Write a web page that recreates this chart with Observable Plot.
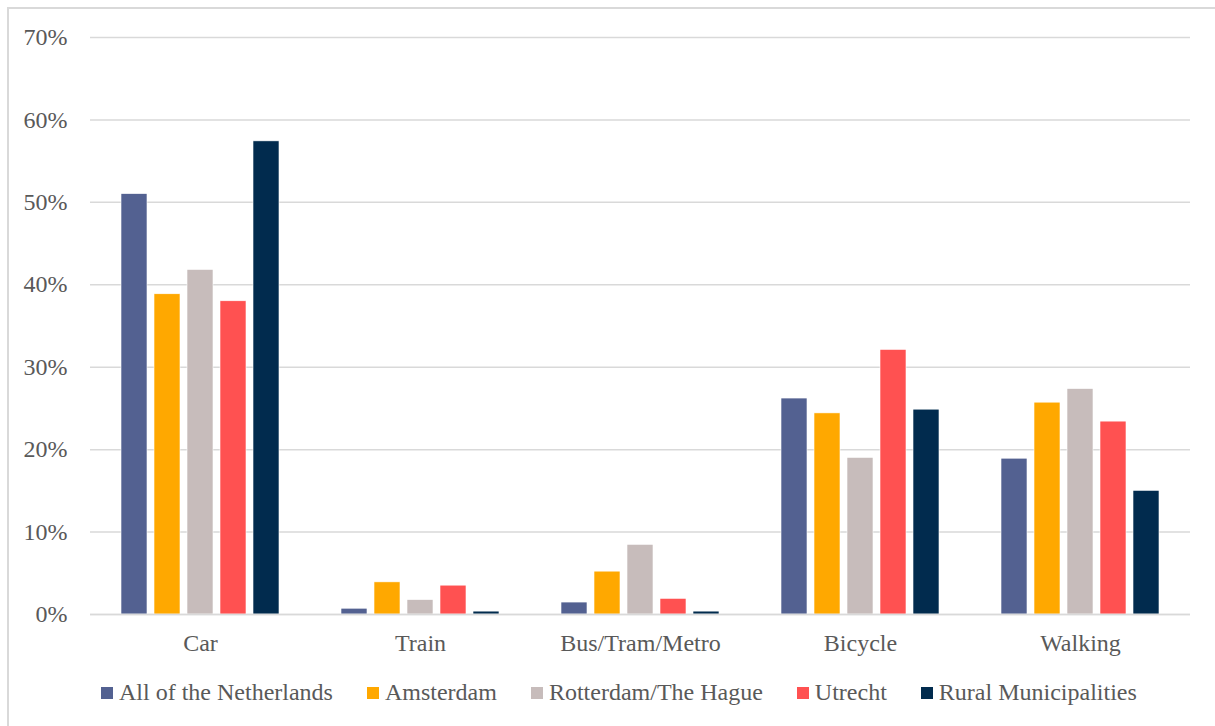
<!DOCTYPE html>
<html>
<head>
<meta charset="utf-8">
<script src="https://cdn.jsdelivr.net/npm/d3@7"></script>
<script src="https://cdn.jsdelivr.net/npm/@observablehq/plot@0.6"></script>
<style>
  html, body { margin: 0; padding: 0; background: #fff; overflow: hidden; }
  #wrap { position: relative; width: 1215px; height: 726px; font-family: "Times New Roman", "Liberation Serif", serif; color: #595959; }
  #frame { position: absolute; left: 7px; top: 7px; width: 1240px; height: 760px; border: 2px solid #d9d9d9; box-sizing: border-box; pointer-events: none; }
  #chart { position: absolute; left: 0; top: 0; }
  #chart svg, #chart svg text { font-family: "Times New Roman", "Liberation Serif", serif; }
  #legend { position: absolute; left: 101px; top: 679px; display: flex; align-items: center; gap: 34px; font-size: 24px; white-space: nowrap; }
  #legend .item { display: flex; align-items: center; }
  #legend .sw { width: 12px; height: 12px; margin-right: 6px; }
</style>
</head>
<body>
<div id="wrap">
  <div id="chart"></div>
  <div id="legend"></div>
  <div id="frame"></div>
</div>
<script>
// Travel modes (x groups) and regions (series)
const categories = ["Car", "Train", "Bus/Tram/Metro", "Bicycle", "Walking"];
const series = ["All of the Netherlands", "Amsterdam", "Rotterdam/The Hague", "Utrecht", "Rural Municipalities"];
const colors = ["#536191", "#ffa800", "#c7bcbb", "#ff5151", "#012b4e"];

// Share of trips per mode (%), in category order
const allNetherlands = [51.0, 0.7, 1.45, 26.2, 18.9];
const amsterdam      = [38.85, 3.9, 5.2, 24.4, 25.7];
const rotterdamHague = [41.8, 1.75, 8.45, 19.0, 27.35];
const utrecht        = [38.0, 3.5, 1.9, 32.1, 23.4];
const rural          = [57.4, 0.35, 0.35, 24.85, 15.0];

const yTicks = [0, 0.1, 0.2, 0.3, 0.4, 0.5, 0.6, 0.7];

const seriesValues = [allNetherlands, amsterdam, rotterdamHague, utrecht, rural];
const data = [];
series.forEach((s, i) => {
  categories.forEach((c, j) => {
    data.push({category: c, series: s, value: seriesValues[i][j] / 100});
  });
});

const chart = Plot.plot({
  width: 1215,
  height: 666,
  marginLeft: 89,
  marginRight: 25,
  marginTop: 37,
  marginBottom: 52,
  style: {fontFamily: "Times New Roman, Liberation Serif, serif", fontSize: "24px", color: "#595959", background: "transparent"},
  fx: {domain: categories, padding: 0, label: null, tickSize: 0, tickPadding: 19},
  x: {domain: series, axis: null, paddingInner: 0.21, paddingOuter: 0.9},
  y: {domain: [0, 0.7], ticks: yTicks, tickFormat: d => Math.round(d * 100) + "%", tickSize: 0, tickPadding: 23, label: null},
  color: {domain: series, range: colors},
  marks: [
    Plot.ruleY(yTicks, {stroke: "#d9d9d9", strokeWidth: 1.5}),
    Plot.barY(data, {fx: "category", x: "series", y: "value", fill: "series", stroke: "#fff", strokeWidth: 0.6}),
    Plot.ruleY([0], {stroke: "#d9d9d9", strokeWidth: 1.5})
  ]
});
document.getElementById("chart").appendChild(chart);

// Legend row below the plot
const legend = d3.select("#legend");
series.forEach((s, i) => {
  const item = legend.append("div").attr("class", "item");
  item.append("div").attr("class", "sw").style("background", colors[i]);
  item.append("span").text(s);
});
</script>
</body>
</html>
